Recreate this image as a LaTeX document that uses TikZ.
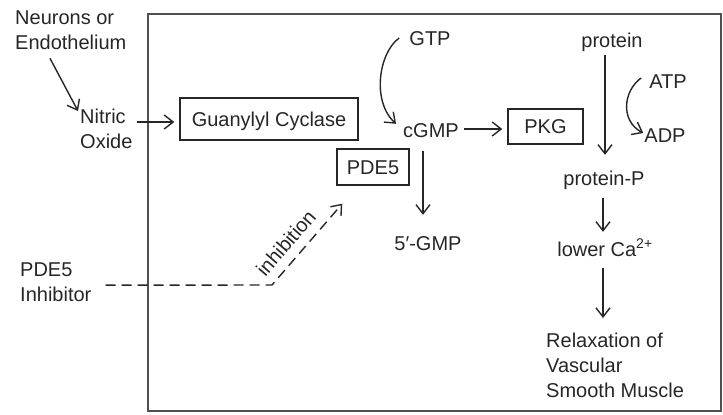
\documentclass[tikz,border=0pt]{standalone}
\usepackage{fontspec}
\setmainfont{Liberation Sans}
\usetikzlibrary{arrows.meta,calc}
\definecolor{ink}{HTML}{262626}
\definecolor{frame}{HTML}{505050}
\begin{document}
\begin{tikzpicture}[x=1pt,y=-1pt,
  every node/.style={font=\fontsize{20}{25}\selectfont, text=ink, inner sep=0pt},
  lbl/.style={text height=14pt, text depth=4pt, anchor=base},
  multi/.style={align=left, anchor=north west},
  boxed/.style={draw=ink, line width=1.4pt, text height=14pt, text depth=0pt},
  arr/.style={draw=ink, line width=1.4pt, -{Straight Barb[length=9pt,width=14pt]}},
  dashline/.style={dash pattern=on 10pt off 6pt}]
\useasboundingbox (0,0) rectangle (723,415);
\draw[frame, line width=1.3pt] (148,14) rectangle (721,411);

% nodes
\node[multi] (neur) at (15,11) {Neurons or\\Endothelium};
\node[multi] (nitric) at (80,109) {Nitric\\Oxide};
\node[multi] (pinh) at (20,263) {PDE5\\Inhibitor};
\node[boxed, minimum width=178pt, minimum height=42pt] (gc) at (269,119) {Guanylyl Cyclase};
\node[boxed, minimum width=75pt, minimum height=35pt] (pkg) at (545.5,126.5) {PKG};
\node[boxed, minimum width=72pt, minimum height=36pt] (pde5) at (373,167) {PDE5};
\node[lbl] (gtp) at (430,45) {GTP};
\node[lbl] (cgmp) at (431,137) {cGMP};
\node[lbl] (prot) at (612,47) {protein};
\node[lbl] (atp) at (668,88) {ATP};
\node[lbl] (adp) at (665,142) {ADP};
\node[lbl] (protp) at (604,185) {protein-P};
\node[lbl] (gmp5) at (428,250) {5′-GMP};
\node[lbl] (lowca) at (605,256) {lower Ca\textsuperscript{2+}};
\node[multi] (relax) at (546,333) {Relaxation of\\Vascular\\Smooth Muscle};

% connectors
\draw[arr] ($(neur.south west)+(35,8)$) -- ($(nitric.north west)+(-2,2)$);
\draw[arr] ($(nitric.east |- gc.west)+(4,3)$) -- ($(gc.west)+(-5,3)$);
\draw[arr] ($(gtp.west)+(-10,-2)$) .. controls ($(gtp.west)+(-30,12)$) and ($(cgmp.north west)+(-32,-22)$) .. ($(cgmp.north west)+(-7,1)$);
\draw[arr] ($(cgmp.east)+(5,-3)$) -- ($(cgmp.east -| pkg.west)+(-5,-3)$);
\draw[arr] ($(cgmp.south)+(-8,10)$) -- ($(gmp5.north)+(-5,-21)$);
\draw[arr] ($(prot.south)+(-7,4)$) -- ($(protp.north)+(1,-16)$);
\draw[arr] ($(atp.west)+(-8,-5)$) .. controls ($(atp.west)+(-26,8)$) and ($(adp.west)+(-24,-16)$) .. ($(adp.west)+(-1,-4)$);
\draw[arr] ($(protp.south)+(-1,9)$) -- ($(lowca.north)+(-2,-10)$);
\draw[arr] ($(lowca.south)+(-2,8)$) -- ($(lowca.south |- relax.north)+(-2,-15)$);
\coordinate (bend) at (272,285);
\draw[arr, dashline] ($(pinh.east)+(14,2.5)$) -- (bend) -- node[pos=0.38, sloped, above=9pt] (inhib) {inhibition} ($(pde5.south west)+(6,18)$);
\end{tikzpicture}
\end{document}
